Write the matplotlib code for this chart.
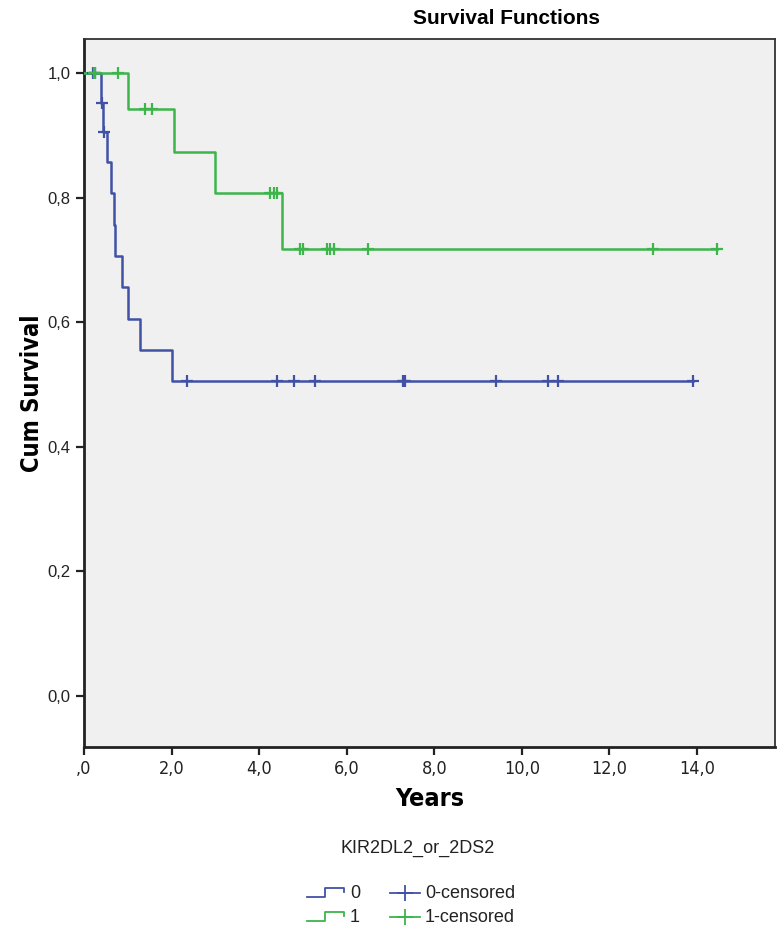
import numpy as np
import matplotlib.pyplot as plt

plt.rcParams['font.family'] = ['Liberation Sans', 'DejaVu Sans']

# group 0 (blue) - event times and survival after each event
t0 = [0.0, 0.39, 0.43, 0.52, 0.62, 0.68, 0.71, 0.87, 1.00, 1.27, 2.00]
s0 = [1.0, 0.952, 0.905, 0.857, 0.808, 0.757, 0.707, 0.657, 0.606, 0.555, 0.505]
end0 = 13.9
c0_t = [0.20, 0.24, 0.41, 0.46, 2.35, 4.40, 4.80, 5.27, 7.28, 7.33, 9.40, 10.60, 10.82, 13.90]

# group 1 (green)
t1 = [0.0, 1.00, 2.06, 3.00, 4.52]
s1 = [1.0, 0.942, 0.874, 0.807, 0.717]
end1 = 14.45
c1_t = [0.22, 0.26, 0.78, 1.39, 1.55, 4.25, 4.33, 4.40, 4.93, 5.00, 5.55, 5.62, 5.71, 6.48, 13.00, 14.45]

xticks = [0, 2, 4, 6, 8, 10, 12, 14]
xtick_labels = [",0", "2,0", "4,0", "6,0", "8,0", "10,0", "12,0", "14,0"]
yticks = [0.0, 0.2, 0.4, 0.6, 0.8, 1.0]
ytick_labels = ["0,0", "0,2", "0,4", "0,6", "0,8", "1,0"]

blue = "#4152a6"
green = "#3db54b"
cond = dict(family="DejaVu Sans", stretch="condensed")


def surv_at(times, surv, t):
    # survival value at time t (step function)
    idx = np.searchsorted(times, t, side="right") - 1
    return np.array(surv)[idx]


W, H = 784, 931
fig = plt.figure(figsize=(W / 100, H / 100), dpi=100)
ax = fig.add_axes([84 / W, 1 - 747 / H, (775 - 84) / W, (747 - 39) / H])
ax.set_facecolor("#f0f0f0")

for t, s, end, ct, col in [(t0, s0, end0, c0_t, blue), (t1, s1, end1, c1_t, green)]:
    xs = list(t) + [end]
    ys = list(s) + [s[-1]]
    ax.step(xs, ys, where="post", color=col, lw=1.8, zorder=3)
    cy = surv_at(t, s, np.array(ct))
    ax.plot(ct, cy, "+", color=col, ms=9, mew=1.6, ls="none", zorder=4)

ax.set_xlim(0, 15.78)
ax.set_ylim(-0.082, 1.055)
ax.set_xticks(xticks)
ax.set_xticklabels(xtick_labels, fontsize=13, **cond)
ax.set_yticks(yticks)
ax.set_yticklabels(ytick_labels, fontsize=12)
ax.tick_params(direction="out", length=6, width=1.6, color="#222222", labelcolor="#222222")
for sp in ax.spines.values():
    sp.set_linewidth(1.3)
    sp.set_color("#333333")
ax.spines["left"].set_linewidth(2)
ax.spines["bottom"].set_linewidth(2)
ax.spines["left"].set_color("#222222")
ax.spines["bottom"].set_color("#222222")

ax.set_xlabel("Years", fontsize=18, fontweight="bold", labelpad=6, **cond)
ax.set_ylabel("Cum Survival", fontsize=17, fontweight="bold", labelpad=3, **cond)
fig.text(507 / W, 1 - 18 / H, "Survival Functions", fontsize=15, fontweight="bold",
         ha="center", va="center")

# legend drawn on an overlay in pixel coordinates
lg = fig.add_axes([0, 0, 1, 1])
lg.set_xlim(0, W)
lg.set_ylim(H, 0)
lg.axis("off")
lg.text(418, 848, "KIR2DL2_or_2DS2", fontsize=13, ha="center", va="center", color="#222222")
labels = ["0", "1"]
cols = [blue, green]
rows_y = [893, 917]
for lab, col, y in zip(labels, cols, rows_y):
    lg.plot([307, 325, 325, 344, 344], [y + 4, y + 4, y - 5, y - 5, y - 1], color=col, lw=1.3)
    lg.text(350, y, lab, fontsize=13, va="center", color="#222222")
    lg.plot([390, 420], [y, y], color=col, lw=1.3)
    lg.plot([405], [y], "+", color=col, ms=12, mew=1.3)
    lg.text(425, y, lab + "-censored", fontsize=13, va="center", color="#222222")

fig.savefig("out.png", dpi=100)
